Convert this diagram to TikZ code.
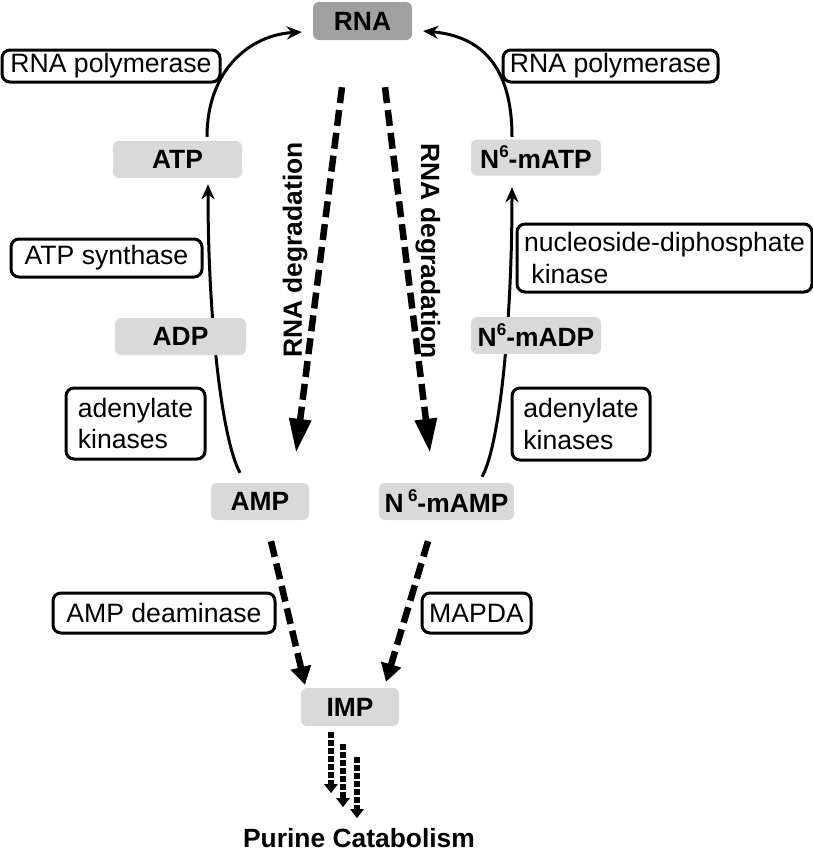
\documentclass[tikz,border=0pt]{standalone}
\usepackage{fontspec}
\setmainfont{Liberation Sans}
\usetikzlibrary{arrows.meta,backgrounds}
\definecolor{boxgray}{HTML}{D9D9D9}
\definecolor{rnagray}{HTML}{A0A0A0}
\newcommand\sixup{\raisebox{0.42em}{\fontsize{17}{17}\selectfont 6}}
\begin{document}
\begin{tikzpicture}[x=1pt,y=-1pt,
 mol/.style={fill=boxgray, rounded corners=6pt, inner sep=0pt, font=\fontsize{26.4}{30}\selectfont\bfseries},
 enz/.style={draw=black, line width=3pt, fill=white, rounded corners=8pt, inner sep=0pt, align=left, font=\fontsize{26.6}{31.5}\selectfont},
 conv/.style={line width=3pt, -{Stealth[length=15pt,width=13pt]}},
 deg/.style={line width=6.5pt, dash pattern=on 16pt off 7pt, -{Triangle[length=34pt,width=21pt]}},
 degb/.style={line width=6.5pt, dash pattern=on 16pt off 7pt, -{Triangle[length=18pt,width=20pt]}},
 cat/.style={line width=5.5pt, dash pattern=on 5.5pt off 2.5pt, -{Triangle[length=9pt,width=13pt]}},
 lbl/.style={inner sep=0pt, font=\fontsize{26.4}{30}\selectfont\bfseries}
]
\useasboundingbox (0,0) rectangle (813,854);

% molecules
\node[mol, fill=rnagray, minimum width=99pt, minimum height=38pt] (RNA) at (362.5,21) {RNA};
\node[mol, minimum width=129pt, minimum height=37pt] (ATP) at (177.5,159.5) {ATP};
\node[mol, minimum width=131pt, minimum height=37pt] (ADP) at (180.5,336.5) {ADP};
\node[mol, minimum width=98pt, minimum height=37pt] (AMP) at (260,501.5) {AMP};
\node[mol, minimum width=130pt, minimum height=36pt] (N6ATP) at (536,157.5) {N\sixup-mATP};
\node[mol, minimum width=130pt, minimum height=37pt] (N6ADP) at (536,335.5) {N\sixup-mADP};
\node[mol, minimum width=135pt, minimum height=37pt] (N6AMP) at (446.5,501.5) {N\,\sixup-mAMP};
\node[mol, minimum width=98pt, minimum height=38pt] (IMP) at (350,707) {IMP};

% enzymes
\node[enz, minimum width=218pt, minimum height=32pt] (polL) at (111,66) {RNA polymerase};
\node[enz, minimum width=215pt, minimum height=32pt] (polR) at (610.5,66) {RNA polymerase};
\node[enz, minimum width=191pt, minimum height=38pt] (atps) at (106.5,258) {ATP synthase};
\node[enz, minimum width=139pt, minimum height=71pt] (akL) at (135.5,423.5) {adenylate\\kinases};
\node[enz, minimum width=295pt, minimum height=68pt] (ndk) at (664.5,258) {nucleoside-diphosphate\\\hspace{0.28em}kinase};
\node[enz, minimum width=138pt, minimum height=72pt] (akR) at (581,424) {adenylate\\kinases};
\node[enz, minimum width=222pt, minimum height=40pt] (ampd) at (164,613) {AMP deaminase};
\node[enz, minimum width=109pt, minimum height=40pt] (mapda) at (476.5,613) {MAPDA};

% conversion arrows behind the boxes
\begin{pgfonlayer}{background}
\draw[conv] ([xshift=-20pt,yshift=10pt]AMP.north) .. controls (222,440) and (208,320) .. ([xshift=30.5pt,yshift=-6pt]ATP.south);
\draw[conv] ([xshift=35.5pt,yshift=6pt]N6AMP.north) .. controls (500,445) and (512,320) .. ([xshift=-24pt,yshift=-11.5pt]N6ATP.south);
\end{pgfonlayer}
\draw[conv] ([xshift=29.5pt,yshift=4pt]ATP.north) .. controls (207,70) and (250,35) .. ([xshift=-11pt,yshift=-11pt]RNA.west);
\draw[conv] ([xshift=-24pt,yshift=2.5pt]N6ATP.north) .. controls (512,65) and (480,36) .. ([xshift=11pt,yshift=-10pt]RNA.east);

% RNA degradation
\draw[deg] ([xshift=-20.5pt,yshift=-47pt]RNA.south) -- ([xshift=36pt,yshift=30pt]AMP.north);
\draw[deg] ([xshift=22.5pt,yshift=-47pt]RNA.south) -- ([xshift=-16.5pt,yshift=30pt]N6AMP.north);
\node[lbl, rotate=90] (degL) at (295,250) {RNA degradation};
\node[lbl, rotate=-90] (degR) at (428,251) {RNA degradation};

% deamination
\draw[degb] ([xshift=11pt,yshift=-21pt]AMP.south) -- ([xshift=-45pt,yshift=3pt]IMP.north);
\draw[degb] ([xshift=-18.5pt,yshift=-21pt]N6AMP.south) -- ([xshift=36pt,yshift=6pt]IMP.north);

% catabolism
\draw[cat] ([xshift=-19pt,yshift=-6pt]IMP.south) -- ([xshift=-19pt,yshift=-67pt]IMP.south);
\draw[cat] ([xshift=-7pt,yshift=-18pt]IMP.south) -- ([xshift=-7pt,yshift=-81pt]IMP.south);
\draw[cat] ([xshift=7pt,yshift=-31pt]IMP.south) -- ([xshift=7pt,yshift=-92pt]IMP.south);
\node[lbl, anchor=base, text depth=0pt] (pc) at (359,847) {Purine Catabolism};
\end{tikzpicture}
\end{document}
